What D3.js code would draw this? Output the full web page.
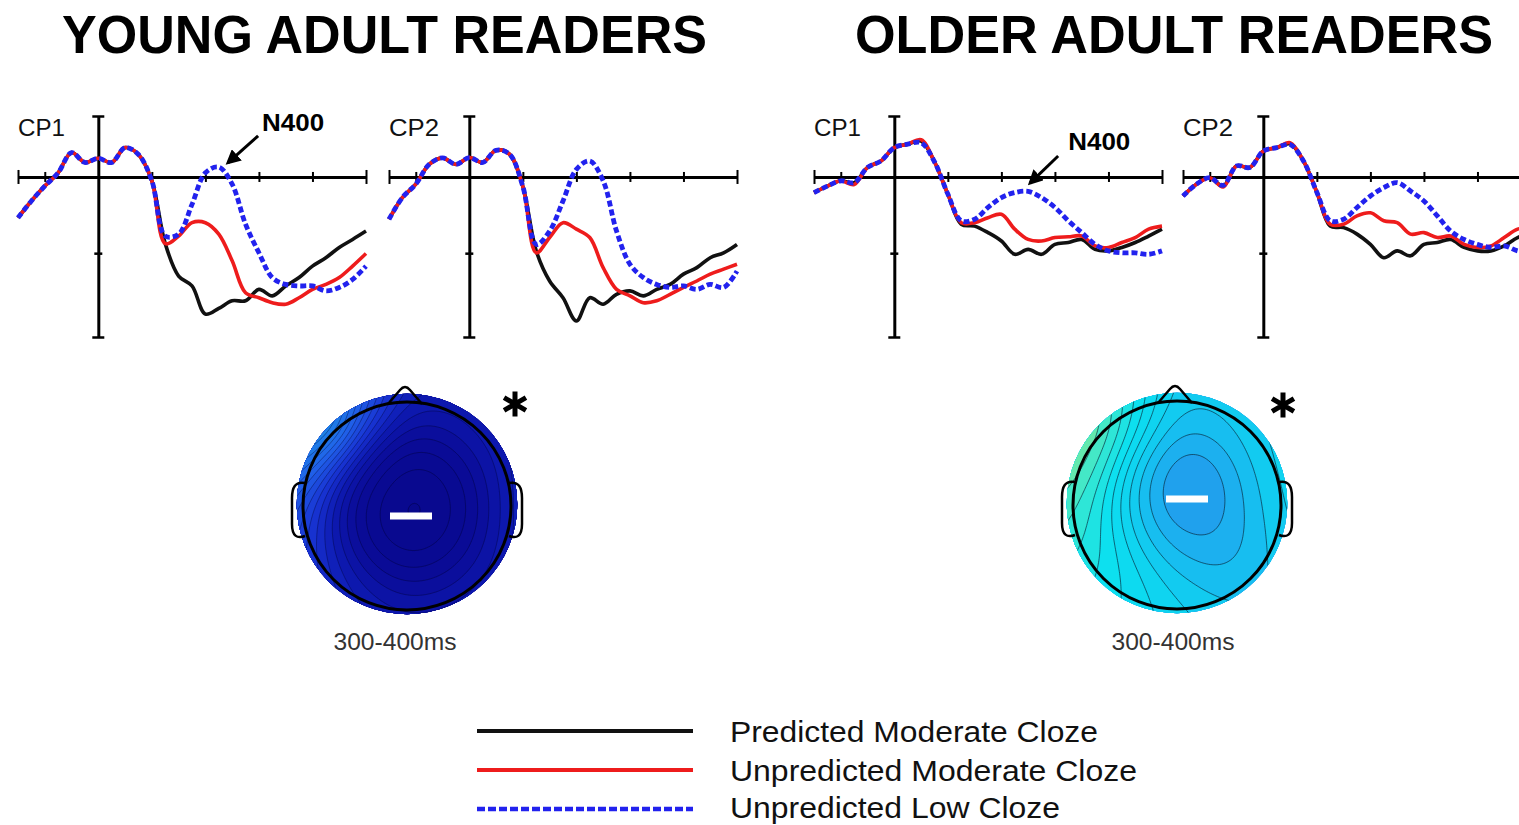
<!DOCTYPE html>
<html>
<head>
<meta charset="utf-8">
<script src="https://cdn.jsdelivr.net/npm/d3@7"></script>
<style>
body { margin: 0; background: #fff; }
svg { display: block; font-family: "Liberation Sans", Arial, sans-serif; }
</style>
</head>
<body>
<svg id="chart" width="1519" height="825"></svg>
<script>
// time points (ms) shared by every waveform
var times = [-300,-250,-200,-150,-100,-50,0,50,100,150,200,250,300,350,400,450,500,550,600,650,700,750,800,850,900,950,1000];
var conditions = ["Predicted Moderate Cloze", "Unpredicted Moderate Cloze", "Unpredicted Low Cloze"];
var xTicks = [-300,-200,200,400,600,800,1000];
var yDomain = [-1.6, 4.2];   // microvolts, negative plotted up
var yTicks = [-1.6, 2, 4.2];

// young adults, CP1
var youngCP1Pred  = [1.07,0.63,0.24,-0.11,-0.64,-0.38,-0.49,-0.38,-0.77,-0.59,0.10,1.75,2.6,2.86,3.6,3.45,3.25,3.25,2.95,3.12,2.86,2.64,2.34,2.12,1.85,1.64,1.42];
var youngCP1Unmod = [1.07,0.63,0.24,-0.11,-0.64,-0.38,-0.49,-0.38,-0.77,-0.59,0.10,1.75,1.55,1.2,1.2,1.5,2.2,3.04,3.17,3.3,3.34,3.17,2.95,2.82,2.64,2.34,2.01];
var youngCP1Low   = [1.07,0.63,0.24,-0.11,-0.64,-0.38,-0.49,-0.38,-0.77,-0.59,0.10,1.55,1.5,0.72,-0.11,-0.26,0.19,1.24,1.99,2.64,2.82,2.86,2.86,2.99,2.9,2.69,2.34];
// young adults, CP2
var youngCP2Pred  = [1.11,0.54,0.19,-0.33,-0.5,-0.33,-0.51,-0.38,-0.7,-0.6,0.25,1.94,2.73,3.17,3.78,3.17,3.34,3.08,2.99,3.12,2.95,2.82,2.55,2.38,2.12,1.99,1.77];
var youngCP2Unmod = [1.11,0.54,0.19,-0.33,-0.5,-0.33,-0.51,-0.38,-0.7,-0.6,0.25,1.99,1.59,1.2,1.37,1.59,2.38,2.95,3.12,3.3,3.25,3.08,2.9,2.73,2.55,2.42,2.29];
var youngCP2Low   = [1.11,0.54,0.19,-0.33,-0.5,-0.33,-0.51,-0.38,-0.7,-0.6,0.25,1.77,1.42,0.63,-0.2,-0.42,0.1,1.42,2.29,2.64,2.82,2.9,2.86,2.95,2.82,2.9,2.47];
// older adults, CP1
var olderCP1Pred  = [0.41,0.24,0.1,0.15,-0.25,-0.42,-0.77,-0.86,-0.94,-0.4,0.45,1.24,1.29,1.46,1.68,2.03,1.9,2.03,1.77,1.72,1.64,1.9,1.94,1.85,1.72,1.55,1.37];
var olderCP1Unmod = [0.41,0.24,0.1,0.2,-0.25,-0.42,-0.77,-0.86,-0.98,-0.4,0.45,1.2,1.2,1.07,0.98,1.37,1.64,1.68,1.59,1.57,1.55,1.81,1.85,1.72,1.59,1.37,1.29];
var olderCP1Low   = [0.41,0.24,0.1,0.15,-0.25,-0.42,-0.77,-0.86,-0.9,-0.4,0.45,1.15,1.11,0.8,0.54,0.41,0.38,0.54,0.8,1.15,1.46,1.77,1.94,1.99,1.99,2.03,1.94];
// older adults, CP2
var olderCP2Pred  = [0.5,0.19,0.02,0.24,-0.29,-0.25,-0.68,-0.77,-0.87,-0.42,0.4,1.29,1.33,1.5,1.77,2.12,1.94,2.07,1.77,1.72,1.64,1.85,1.94,1.94,1.81,1.59,1.5];
var olderCP2Unmod = [0.5,0.19,0.02,0.26,-0.29,-0.25,-0.68,-0.77,-0.9,-0.42,0.4,1.24,1.24,1.02,0.94,1.15,1.2,1.5,1.46,1.59,1.55,1.77,1.85,1.81,1.59,1.37,1.33];
var olderCP2Low   = [0.5,0.19,0.02,0.22,-0.29,-0.25,-0.68,-0.77,-0.85,-0.42,0.4,1.15,1.11,0.8,0.5,0.28,0.15,0.37,0.63,1.02,1.42,1.64,1.77,1.85,1.81,1.94,1.99];

// scalp sites: radius (1 = head outline) and angle (deg clockwise from nose)
var elecRadius = [0, 0.4,0.4,0.4,0.4,0.4,0.4,0.4,0.4,
  0.75,0.75,0.75,0.75,0.75,0.75,0.75,0.75,0.75,0.75,0.75,0.75,
  1.05,1.05,1.05,1.05,1.05,1.05,1.05,1.05,1.05,1.05,1.05,1.05,1.05,1.05,1.05,1.05];
var elecAngle = [0, 0,45,90,135,180,225,270,315,
  0,30,60,90,120,150,180,210,240,270,300,330,
  0,22.5,45,67.5,90,112.5,135,157.5,180,202.5,225,247.5,270,292.5,315,337.5];
// 300-400 ms difference amplitudes (microvolts) at those sites
var youngTopo = [-6.2, -5.8,-5.8,-5.8,-5.85,-5.85,-5.75,-5.65,-5.6,
  -5.35,-5.4,-5.4,-5.4,-5.45,-5.45,-5.45,-5.3,-5.15,-5.0,-4.8,-5.0,
  -4.6,-4.65,-4.6,-4.5,-4.35,-4.5,-4.65,-4.7,-4.7,-4.55,-4.2,-3.8,-3.3,-2.5,-1.5,-3.2];
var olderTopo = [-2.75, -2.5,-2.55,-2.35,-2.25,-2.1,-1.85,-1.85,-2.1,
  -2.0,-2.0,-1.85,-1.85,-2.1,-2.05,-1.65,-1.2,-0.85,-0.7,-0.75,-1.3,
  -1.6,-1.55,-1.4,-1.3,-1.3,-1.45,-1.75,-1.6,-1.35,-1.1,-0.85,-0.5,-0.1,0.35,0.4,-0.6];

var topoColorDomain = [-6.0,-5.3,-4.8,-4.3,-3.6,-2.7,-2.25,-1.9,-1.55,-1.0,-0.4,0.1,0.6];
var topoColorRange = ["#08088a","#0a0c98","#0e1ab2","#1834d2","#2060e8","#1e8ae6","#20a4ee","#18bcf0","#10d0f0","#0ce0f0","#38e8d0","#80ea98","#d4f040"];

var svg = d3.select("#chart");

// titles
svg.append("text").attr("x", 62).attr("y", 53).attr("font-size", 54).attr("font-weight", "bold")
  .attr("textLength", 645).attr("lengthAdjust", "spacingAndGlyphs").text("YOUNG ADULT READERS");
svg.append("text").attr("x", 855).attr("y", 53).attr("font-size", 54).attr("font-weight", "bold")
  .attr("textLength", 638).attr("lengthAdjust", "spacingAndGlyphs").text("OLDER ADULT READERS");

var colors = ["#111111", "#ee1c1c", "#2222ee"];
var widths = [3.6, 3.6, 4.8];
var dashes = [null, null, "6,3"];

svg.append("defs").append("marker")
  .attr("id", "arrow").attr("viewBox", "0 0 10 10").attr("refX", 8).attr("refY", 5)
  .attr("markerWidth", 5).attr("markerHeight", 5).attr("orient", "auto")
  .append("path").attr("d", "M0,0 L10,5 L0,10 z").attr("fill", "#000");

var panels = [
  { label: "CP1", x0: 98,   labelW: 47, series: [youngCP1Pred, youngCP1Unmod, youngCP1Low],
    n400: { tip: [484, -0.37], tail: [597, -1.08], text: [612, -1.21] } },
  { label: "CP2", x0: 469,  labelW: 50, series: [youngCP2Pred, youngCP2Unmod, youngCP2Low] },
  { label: "CP1", x0: 894,  labelW: 47, series: [olderCP1Pred, olderCP1Unmod, olderCP1Low],
    n400: { tip: [507, 0.16], tail: [612, -0.55], text: [650, -0.71] } },
  { label: "CP2", x0: 1263, labelW: 50, series: [olderCP2Pred, olderCP2Unmod, olderCP2Low] }
];

panels.forEach(function(p) {
  var x = d3.scaleLinear().domain([times[0], times[times.length - 1]]).range([p.x0 - 80, p.x0 + 268]);
  var y = d3.scaleLinear().domain(yDomain).range([116, 337]);
  var g = svg.append("g");

  var xa = g.append("g").attr("transform", "translate(0," + y(0) + ")")
    .call(d3.axisBottom(x).tickValues(xTicks).tickSizeOuter(0).tickFormat(""));
  xa.select(".domain").attr("stroke", "#000").attr("stroke-width", 3);
  xa.selectAll(".tick line").attr("stroke", "#000").attr("stroke-width", 2)
    .attr("y1", function(d) { return (d == xTicks[0] || d == xTicks[xTicks.length - 1]) ? -7 : -5; })
    .attr("y2", function(d) { return (d == xTicks[0] || d == xTicks[xTicks.length - 1]) ? 7 : 5; });

  var ya = g.append("g").attr("transform", "translate(" + x(0) + ",0)")
    .call(d3.axisLeft(y).tickValues(yTicks).tickSizeOuter(0).tickFormat(""));
  ya.select(".domain").attr("stroke", "#000").attr("stroke-width", 3);
  ya.selectAll(".tick line").attr("stroke", "#000").attr("stroke-width", 2.5)
    .attr("x1", function(d) { return d == 2 ? -4 : -6; })
    .attr("x2", function(d) { return d == 2 ? 4 : 6; });

  var line = d3.line()
    .x(function(d, i) { return x(times[i]); })
    .y(function(d) { return y(d); })
    .curve(d3.curveCatmullRom.alpha(0.5));

  p.series.forEach(function(s, k) {
    g.append("path").datum(s).attr("d", line)
      .attr("fill", "none").attr("stroke", colors[k]).attr("stroke-width", widths[k])
      .attr("stroke-dasharray", dashes[k]).attr("stroke-linejoin", "round");
  });

  g.append("text").attr("x", p.x0 - 80).attr("y", 136).attr("font-size", 23)
    .attr("textLength", p.labelW).attr("lengthAdjust", "spacingAndGlyphs").attr("fill", "#111").text(p.label);

  if (p.n400) {
    g.append("line")
      .attr("x1", x(p.n400.tail[0])).attr("y1", y(p.n400.tail[1]))
      .attr("x2", x(p.n400.tip[0])).attr("y2", y(p.n400.tip[1]))
      .attr("stroke", "#000").attr("stroke-width", 3).attr("marker-end", "url(#arrow)");
    g.append("text").attr("x", x(p.n400.text[0])).attr("y", y(p.n400.text[1]))
      .attr("font-size", 23).attr("font-weight", "bold")
      .attr("textLength", 62).attr("lengthAdjust", "spacingAndGlyphs").text("N400");
  }
});

// topographic maps
var topoColor = d3.scaleLinear().domain(topoColorDomain).range(topoColorRange).clamp(true);

function drawTopo(id, vals, m) {
  var n = 110, ext = 1.15, sigma = 0.26;
  var ex = elecRadius.map(function(r, i) { return r * Math.sin(elecAngle[i] * Math.PI / 180); });
  var ey = elecRadius.map(function(r, i) { return -r * Math.cos(elecAngle[i] * Math.PI / 180); });
  var grid = new Array(n * n);
  for (var j = 0; j < n; j++) {
    for (var i = 0; i < n; i++) {
      var gx = -ext + (i + 0.5) * 2 * ext / n, gy = -ext + (j + 0.5) * 2 * ext / n;
      var sw = 0, sv = 0;
      for (var k = 0; k < vals.length; k++) {
        var dx = gx - ex[k], dy = gy - ey[k];
        var w = Math.exp(-(dx * dx + dy * dy) / (2 * sigma * sigma));
        sw += w; sv += w * vals[k];
      }
      grid[j * n + i] = sv / sw;
    }
  }
  var thr = d3.range(m.lo, m.hi, m.step);
  var contours = d3.contours().size([n, n]).thresholds(thr)(grid);
  var path = d3.geoPath(d3.geoIdentity().scale(2 * ext * m.R / n).translate([m.cx - ext * m.R, m.cy - ext * m.R]));

  svg.select("defs").append("clipPath").attr("id", id)
    .append("circle").attr("cx", m.cx).attr("cy", m.cy - 2).attr("r", m.R * 1.06);

  var g = svg.append("g");
  g.append("g").attr("clip-path", "url(#" + id + ")")
    .selectAll("path").data(contours).join("path")
    .attr("d", path)
    .attr("fill", function(d) { return topoColor(d.value + m.step / 2); })
    .attr("stroke", m.lineColor).attr("stroke-width", 0.9);

  var R = m.R, cx = m.cx, cy = m.cy;
  g.append("circle").attr("cx", cx).attr("cy", cy).attr("r", R)
    .attr("fill", "none").attr("stroke", "#000").attr("stroke-width", 3);
  g.append("path")
    .attr("d", "M" + (cx - 19) + "," + (cy - R + 2) + " L" + (cx - 7) + "," + (cy - R - 12) +
      " Q" + (cx - 2) + "," + (cy - R - 18) + " " + (cx + 3) + "," + (cy - R - 12) +
      " L" + (cx + 15) + "," + (cy - R + 2))
    .attr("fill", "none").attr("stroke", "#000").attr("stroke-width", 2.5);
  [-1, 1].forEach(function(sd) {
    var e = cx + sd * R;
    g.append("path")
      .attr("d", "M" + (e - sd * 2) + "," + (cy - 23) +
        " C" + (e + sd * 8) + "," + (cy - 25) + " " + (e + sd * 11) + "," + (cy - 18) + " " + (e + sd * 11) + "," + (cy - 8) +
        " L" + (e + sd * 11) + "," + (cy + 18) +
        " C" + (e + sd * 11) + "," + (cy + 30) + " " + (e + sd * 6) + "," + (cy + 33) + " " + (e - sd * 2) + "," + (cy + 30))
      .attr("fill", "none").attr("stroke", "#000").attr("stroke-width", 2.5);
  });
  g.append("rect").attr("x", cx + m.bar[0] - 21).attr("y", cy + m.bar[1] - 3.5)
    .attr("width", 42).attr("height", 7).attr("fill", "#fff");
  g.append("path").attr("d", d3.symbol().type(d3.symbolAsterisk).size(450))
    .attr("transform", "translate(" + m.star[0] + "," + m.star[1] + ")")
    .attr("fill", "none").attr("stroke", "#000").attr("stroke-width", 5);
  g.append("text").attr("x", m.labelX).attr("y", 650).attr("text-anchor", "middle")
    .attr("font-size", 24).attr("fill", "#333")
    .attr("textLength", 123).attr("lengthAdjust", "spacingAndGlyphs").text("300-400ms");
}

drawTopo("clipYoung", youngTopo, { cx: 407, cy: 506, R: 104, lo: -6.4, hi: 1, step: 0.18,
  lineColor: "rgba(0,0,40,0.4)", bar: [4, 10], star: [515, 404], labelX: 395 });
drawTopo("clipOlder", olderTopo, { cx: 1177, cy: 505, R: 104, lo: -2.85, hi: 1.5, step: 0.22,
  lineColor: "rgba(10,40,60,0.75)", bar: [10, -6], star: [1283, 405], labelX: 1173 });

// legend
var legendTextW = [368, 407, 330];
conditions.forEach(function(c, i) {
  var ly = 731 + i * 39;
  svg.append("line").attr("x1", 477).attr("x2", 693).attr("y1", ly).attr("y2", ly)
    .attr("stroke", colors[i]).attr("stroke-width", i == 2 ? 4.5 : 4)
    .attr("stroke-dasharray", i == 2 ? "8,3" : null);
  svg.append("text").attr("x", 730).attr("y", Math.min(ly + 11, 818)).attr("font-size", 30).attr("fill", "#111")
    .attr("textLength", legendTextW[i]).attr("lengthAdjust", "spacingAndGlyphs").text(c);
});
</script>
</body>
</html>
